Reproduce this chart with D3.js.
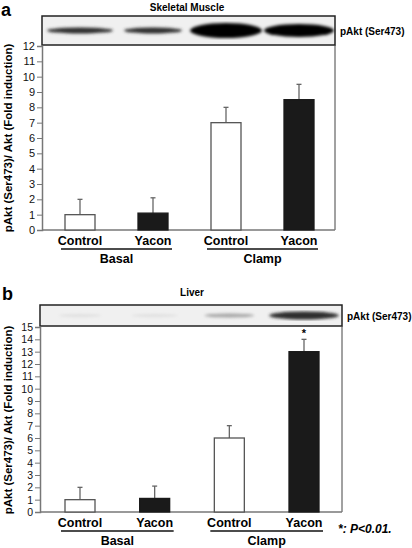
<!DOCTYPE html>
<html><head><meta charset="utf-8">
<script src="https://cdn.jsdelivr.net/npm/d3@7"></script>
<style>body{margin:0;background:#fff}svg{display:block}text{font-family:"Liberation Sans",Arial,sans-serif}</style>
</head><body><svg id="c" width="412" height="548"></svg>
<script>
const categories = ["Control","Yacon","Control","Yacon"];
const groups = ["Basal","Clamp"];
const muscleValues = [1.0, 1.1, 7.0, 8.5];
const muscleErrors = [1.0, 1.0, 1.0, 1.0];
const liverValues = [1.0, 1.1, 6.0, 13.0];
const liverErrors = [1.0, 1.0, 1.0, 1.0];
const liverSignif = [false, false, false, true];
const muscleTicks = [0,1,2,3,4,5,6,7,8,9,10,11,12];
const liverTicks = [0,1,2,3,4,5,6,7,8,9,10,11,12,13,14,15];
const muscleBands = [0.85, 0.85, 1.0, 1.0];
const liverBands = [0.25, 0.25, 0.45, 0.85];

const svg = d3.select("#c");
const defs = svg.append("defs");
defs.append("filter").attr("id","blur").append("feGaussianBlur").attr("stdDeviation",1.6);

function panel(o){
  const g = svg.append("g");
  const x = d3.scaleLinear().domain([0,3]).range([o.c0,o.c3]);
  const y = d3.scaleLinear().domain([0,o.max]).range([o.y0,o.y1]);
  g.append("text").attr("x",o.letterX).attr("y",o.letterY).attr("font-size",18).attr("font-weight","bold").text(o.letter);
  g.append("text").attr("x",o.titleX).attr("y",o.titleY).attr("text-anchor","middle").attr("font-size",10).attr("font-weight","bold").text(o.title);
  g.append("rect").attr("x",o.xl).attr("y",o.by0).attr("width",o.xr-o.xl).attr("height",o.by1-o.by0).attr("fill","#f0f0f0").attr("stroke","#222").attr("stroke-width",1.5);
  const bg = g.append("g").attr("filter","url(#blur)");
  o.bands.forEach((b,i)=>{
    bg.append("ellipse").attr("cx",x(i)).attr("cy",(o.by0+o.by1)/2)
      .attr("rx",o.bandW[i]/2).attr("ry",o.bandH[i]/2).attr("fill",d3.interpolateGreys(b));
  });
  g.append("text").attr("x",o.xr+5).attr("y",(o.by0+o.by1)/2+4).attr("font-size",10).attr("font-weight","bold").text("pAkt (Ser473)");
  g.append("line").attr("x1",o.xr).attr("x2",o.xr).attr("y1",o.by1).attr("y2",o.y0).attr("stroke","#444").attr("stroke-width",1);
  g.append("line").attr("x1",o.xl).attr("x2",o.xr).attr("y1",o.y0).attr("y2",o.y0).attr("stroke","#777").attr("stroke-width",1.5);
  const ax = g.append("g").attr("transform",`translate(${o.xl},0)`).call(d3.axisLeft(y).tickValues(o.ticks).tickSize(5).tickPadding(2));
  ax.select(".domain").attr("stroke","#777").attr("stroke-width",1.5);
  ax.selectAll(".tick line").attr("stroke","#777");
  ax.selectAll(".tick text").attr("font-size",o.tickFont).attr("fill","#111").attr("font-family","\"Liberation Sans\",Arial,sans-serif");
  const bw = 30;
  o.values.forEach((v,i)=>{
    const cx = x(i);
    const top = v + o.errors[i];
    g.append("line").attr("x1",cx).attr("x2",cx).attr("y1",y(v)).attr("y2",y(top)).attr("stroke","#666").attr("stroke-width",1.3);
    g.append("line").attr("x1",cx-2.5).attr("x2",cx+2.5).attr("y1",y(top)).attr("y2",y(top)).attr("stroke","#666").attr("stroke-width",1.3);
    g.append("rect").attr("x",cx-bw/2).attr("y",y(v)).attr("width",bw).attr("height",y(0)-y(v))
      .attr("fill", i%2? "#1a1a1a":"#fff").attr("stroke", i%2?"#1a1a1a":"#555").attr("stroke-width",1.3);
    g.append("text").attr("x",cx).attr("y",o.y0+15).attr("text-anchor","middle").attr("font-size",12.5).attr("font-weight","bold").text(categories[i]);
    if(o.signif && o.signif[i]) g.append("text").attr("x",cx).attr("y",y(top)-2).attr("text-anchor","middle").attr("font-size",11).attr("font-weight","bold").text("*");
  });
  groups.forEach((gr,j)=>{
    const a = x(2*j)-bw/2-4, b = x(2*j+1)+bw/2+4;
    g.append("line").attr("x1",a).attr("x2",b).attr("y1",o.y0+19).attr("y2",o.y0+19).attr("stroke","#111").attr("stroke-width",1.3);
    g.append("text").attr("x",(a+b)/2).attr("y",o.y0+33).attr("text-anchor","middle").attr("font-size",12.5).attr("font-weight","bold").text(gr);
  });
  g.append("text").attr("transform",`translate(${o.labX},${o.labY}) rotate(-90)`).attr("text-anchor","middle")
    .attr("font-size",11.5).attr("font-weight","bold").text("pAkt (Ser473)/ Akt (Fold induction)");
}

panel({letter:"a",letterX:1,letterY:16,title:"Skeletal Muscle",titleX:187,titleY:11,
  xl:42,xr:335,by0:16,by1:45,y0:230,y1:46,max:12,ticks:muscleTicks,c0:80,c3:299,tickFont:11,
  values:muscleValues,errors:muscleErrors,bands:muscleBands,bandW:[66,58,72,70],bandH:[6,6,15,13],
  labX:12,labY:138});
panel({letter:"b",letterX:2,letterY:300,title:"Liver",titleX:192,titleY:296,
  xl:40,xr:342,by0:305,by1:326,y0:512,y1:327,max:15,ticks:liverTicks,c0:80,c3:304,tickFont:10.5,
  values:liverValues,errors:liverErrors,signif:liverSignif,bands:liverBands,bandW:[42,46,50,70],bandH:[2,2,4,8],
  labX:12,labY:420});
svg.append("text").attr("x",338).attr("y",533).attr("font-size",12).attr("font-weight","bold").attr("font-style","italic").text("*: P<0.01.");
</script></body></html>
